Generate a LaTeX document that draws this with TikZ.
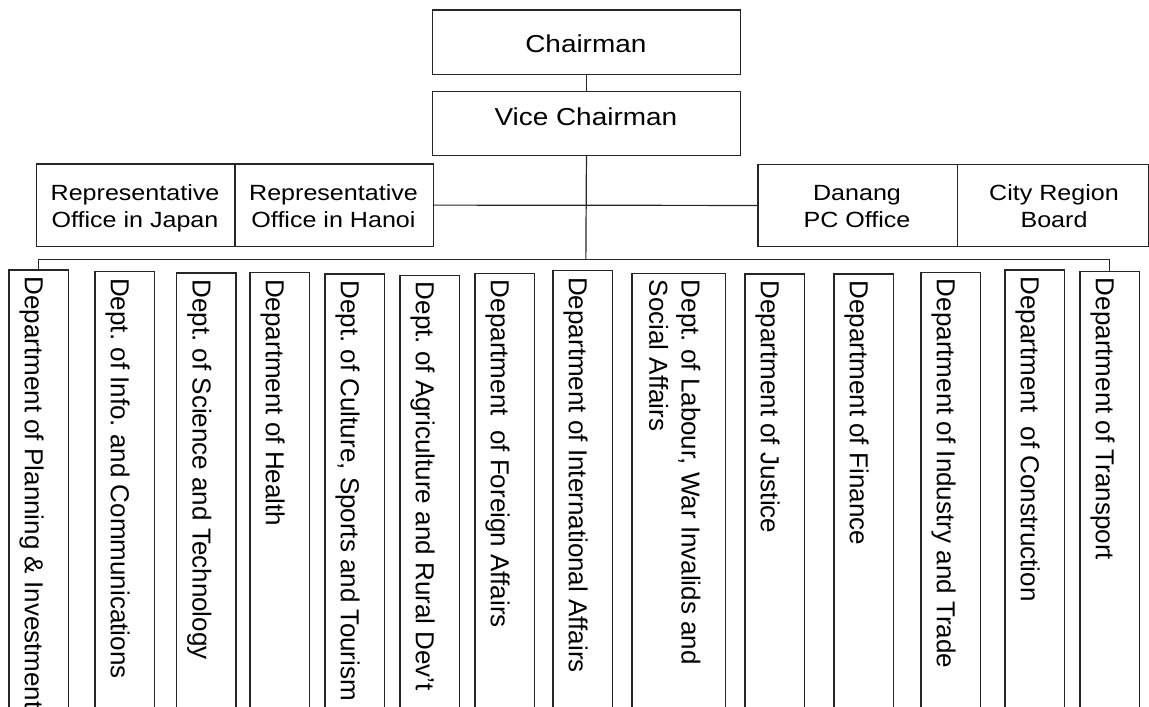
\documentclass[tikz,border=0pt]{standalone}
\usepackage{fontspec}
\setmainfont{Liberation Sans}
\newfontfamily\widefont[FakeStretch=1.14]{Liberation Sans}
\frenchspacing
\begin{document}
\begin{tikzpicture}[x=1pt,y=-1pt,
  box/.style={draw=black!85, line width=1.2pt, rectangle, inner sep=0pt, anchor=north west},
  deptbox/.style={box, minimum width=59.3pt, minimum height=470pt},
  link/.style={draw=black!85, line width=1.2pt},
  headtext/.style={font=\widefont\fontsize{24.5}{29.4}\selectfont, inner sep=0pt, anchor=base},
  officetext/.style={font=\widefont\fontsize{22}{27}\selectfont, inner sep=0pt, align=center},
  depttext/.style={font=\fontsize{26}{31}\selectfont, inner sep=0pt, rotate=-90, anchor=base west}]
\useasboundingbox (0,0) rectangle (1149,707);
\clip (0,0) rectangle (1149,707);

% top of the hierarchy
\node[box, minimum width=308.3pt, minimum height=64.7pt] (chair) at (431.7,9.3) {};
\node[box, minimum width=308.3pt, minimum height=64.3pt] (vice) at (431.7,90.7) {};
\node[headtext] (chairT) at (585.85,52.7) {Chairman};
\node[headtext] (viceT) at (585.85,125) {Vice Chairman};

% offices beside the main line
\node[box, minimum width=198.6pt, minimum height=82.4pt] (japan) at (35.7,163.3) {};
\node[box, minimum width=198.4pt, minimum height=82.4pt] (hanoi) at (234.3,163.3) {};
\node[box, minimum width=199.4pt, minimum height=81.7pt] (danang) at (757.3,164) {};
\node[box, minimum width=190.8pt, minimum height=81.7pt] (city) at (956.7,164) {};
\node[officetext] (japanT) at (135,208.1) {\strut Representative\\\strut Office in Japan};
\node[officetext] (hanoiT) at (333.5,208.1) {\strut Representative\\\strut Office in Hanoi};
\node[officetext] (danangT) at (857,208.1) {\strut Danang\\\strut PC Office};
\node[officetext] (cityT) at (1054,208.1) {\strut City Region\\\strut Board};

% departments
\node[deptbox] (d1) at (8.3,269.3) {};
\node[deptbox] (d2) at (94.3,271) {};
\node[deptbox] (d3) at (176,272.3) {};
\node[deptbox] (d4) at (249.3,272) {};
\node[deptbox] (d5) at (324.3,273.3) {};
\node[deptbox] (d6) at (399.3,274.7) {};
\node[deptbox] (d7) at (474.3,272.7) {};
\node[deptbox] (d8) at (552.3,270) {};
\node[deptbox, minimum width=93.7pt] (d9) at (631.3,272.7) {};
\node[deptbox] (d10) at (744.3,273.3) {};
\node[deptbox] (d11) at (833.3,273.3) {};
\node[deptbox] (d12) at (920.3,271.7) {};
\node[deptbox] (d13) at (1004.3,269.3) {};
\node[deptbox] (d14) at (1079.3,270.7) {};

\node[depttext] (t1) at (24.8,276.3) {Department of Planning \& Investment};
\node[depttext] (t2) at (110.8,278) {Dept. of Info. and Communications};
\node[depttext] (t3) at (192.5,279.3) {Dept. of Science and Technology};
\node[depttext] (t4) at (265.8,279) {Department of Health};
\node[depttext] (t5) at (340.8,280.3) {Dept. of Culture, Sports and Tourism};
\node[depttext] (t6) at (415.8,281.7) {Dept. of Agriculture and Rural Dev’t};
\node[depttext] (t7) at (490.8,279.7) {Department\ \ of Foreign Affairs};
\node[depttext] (t8) at (568.8,277) {Department of International Affairs};
\node[depttext] (t9a) at (681.7,279.7) {Dept. of Labour, War Invalids and};
\node[depttext] (t9b) at (649.3,279.7) {Social Affairs};
\node[depttext] (t10) at (760.8,280.3) {Department of Justice};
\node[depttext] (t11) at (849.8,280.3) {Department of Finance};
\node[depttext] (t12) at (936.8,278.7) {Department of Industry and Trade};
\node[depttext] (t13) at (1020.8,276.3) {Department\ \ of Construction};
\node[depttext] (t14) at (1095.8,277.7) {Department of Transport};

% connectors
\coordinate (bus) at (585.85,259.3);
\draw[link] (chair.south) -- (vice.north);
\draw[link] (vice.south) -- (bus);
\draw[link] (hanoi.east) -- (danang.west);
\draw[link] (d1.north) |- (bus) -| (d14.north);
\end{tikzpicture}
\end{document}
